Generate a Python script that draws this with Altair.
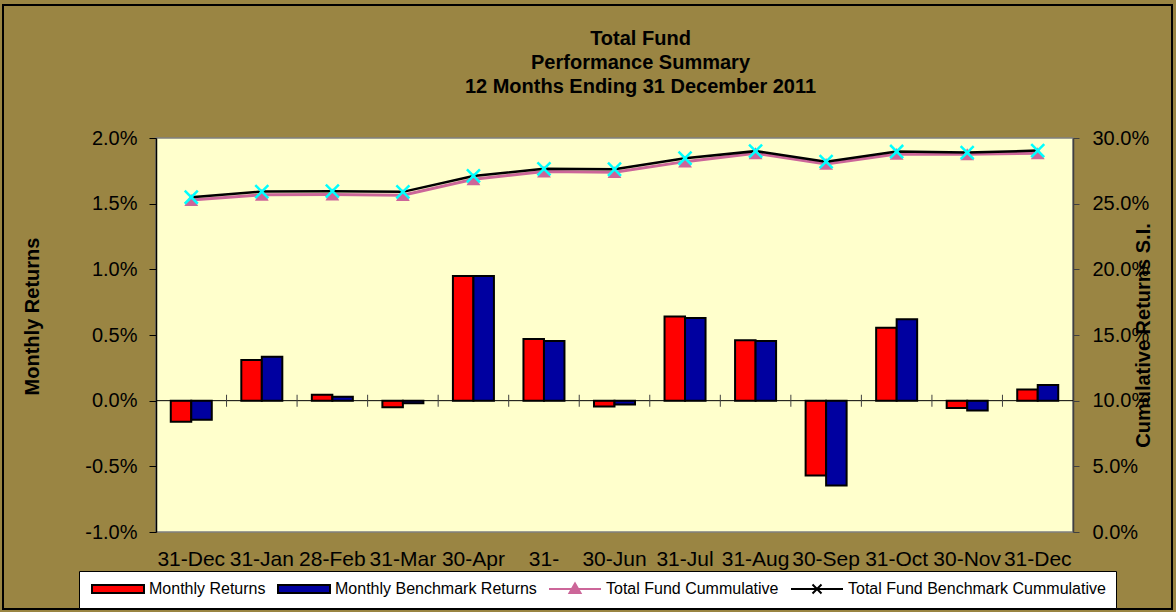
import json
import altair as alt
import pandas as pd

FONT = "Liberation Sans"

months = ["31-Dec", "31-Jan", "28-Feb", "31-Mar", "30-Apr", "31-", "30-Jun",
          "31-Jul", "31-Aug", "30-Sep", "31-Oct", "30-Nov", "31-Dec"]
monthly_returns = [-0.0016, 0.0031, 0.00045, -0.0005, 0.0095, 0.0047, -0.00045,
                   0.0064, 0.0046, -0.0057, 0.00555, -0.00055, 0.00085]
benchmark_returns = [-0.00145, 0.00335, 0.0003, -0.0002, 0.0095, 0.00455, -0.0003,
                     0.0063, 0.00455, -0.00645, 0.0062, -0.00075, 0.0012]
fund_cumulative = [0.2528, 0.2567, 0.2570, 0.2565, 0.2686, 0.2744, 0.2740,
                   0.2820, 0.2884, 0.2803, 0.2879, 0.2876, 0.2884]
bench_cumulative = [0.2549, 0.2592, 0.2595, 0.2590, 0.2711, 0.2765, 0.2762,
                    0.2846, 0.2900, 0.2820, 0.2897, 0.2889, 0.2904]
series_names = ["Monthly Returns", "Monthly Benchmark Returns",
                "Total Fund Cummulative", "Total Fund Benchmark Cummulative"]
left_ticks = [-0.01, -0.005, 0.0, 0.005, 0.01, 0.015, 0.02]
right_ticks = [0.0, 0.05, 0.1, 0.15, 0.2, 0.25, 0.3]

bars_rows = []
for i in range(len(months)):
    bars_rows.append({"idx": i, "series": series_names[0], "value": monthly_returns[i]})
    bars_rows.append({"idx": i, "series": series_names[1], "value": benchmark_returns[i]})
bars_df = pd.DataFrame(bars_rows)

cum_rows = []
for i in range(len(months)):
    cum_rows.append({"idx": i, "series": series_names[2], "value": fund_cumulative[i]})
    cum_rows.append({"idx": i, "series": series_names[3], "value": bench_cumulative[i]})
cum_df = pd.DataFrame(cum_rows)

ticks_df = pd.DataFrame({"idx": list(range(1, len(months))), "zero": [0.0] * (len(months) - 1)})
zero_df = pd.DataFrame({"zero": [0.0]})
legend_df = pd.DataFrame({"idx": [0] * 4, "series": series_names, "value": [fund_cumulative[0]] * 4})

fill_scale = alt.Scale(domain=series_names, range=["#FF0000", "#0000A0", "#CC6699", "#00FFFF"])
stroke_scale = alt.Scale(domain=series_names, range=["#000000", "#000000", "#CC6699", "#000000"])
shape_scale = alt.Scale(domain=series_names, range=[
    "M-5.2,-0.8H5.2V0.8H-5.2Z",
    "M-5.2,-0.8H5.2V0.8H-5.2Z",
    "M-5.2,0H5.2M-1.1,0.8L0,-1.1L1.1,0.8Z",
    "M-5.2,0H5.2M-0.9,-0.9L0.9,0.9M-0.9,0.9L0.9,-0.9",
])

leg = alt.Legend(
    orient="none", legendX=-77, legendY=433, direction="horizontal", columns=4,
    title=None, fillColor="white", strokeColor="black", padding=10,
    labelFont=FONT, labelFontSize=16, labelColor="black", labelLimit=500,
    symbolSize=100, symbolOffset=21, labelOffset=23, columnPadding=8,
    gridAlign="none", symbolStrokeWidth=2, symbolOpacity=1,
)

left_scale = alt.Scale(domain=[-0.01, 0.02], nice=False, zero=False)
right_scale = alt.Scale(domain=[0, 0.30], nice=False, zero=False)

x_axis = alt.Axis(
    title=None, labelExpr=f"{json.dumps(months)}[datum.value]", labelAngle=0,
    ticks=False, domain=False, grid=False, labelFont=FONT, labelFontSize=21,
    labelColor="black", labelPadding=16, labelOverlap=False,
)
left_axis = alt.Axis(
    values=left_ticks, grid=False,
    labelExpr="(datum.value < 0 ? '-' : '') + format(abs(datum.value), '.1%')",
    domainColor="black", domainWidth=1.5, tickColor="black", tickSize=7,
    labelFont=FONT, labelFontSize=20, labelColor="black", labelPadding=12,
    title="Monthly Returns", titleFont=FONT, titleFontSize=20, titleFontWeight="bold",
    titleColor="black", titleAngle=270, titleX=-124, titleY=178,
    titleAlign="center", titleBaseline="middle",
)
right_axis = alt.Axis(
    orient="right", values=right_ticks, grid=False,
    labelExpr="format(datum.value, '.1%')",
    domainColor="#404040", domainWidth=1.5, tickColor="#404040", tickSize=6,
    labelFont=FONT, labelFontSize=20, labelColor="black", labelPadding=13,
    title="Cumulative Returns S.I.", titleFont=FONT, titleFontSize=20, titleFontWeight="bold",
    titleColor="black", titleAngle=270, titleX=70, titleY=197,
    titleAlign="center", titleBaseline="middle",
)

# outer frame of the whole picture (decoration)
frame = alt.Chart(pd.DataFrame({"f": [0]})).mark_rect(
    fillOpacity=0, stroke="black", strokeWidth=2
).encode(x=alt.value(-153), x2=alt.value(1016), y=alt.value(-133), y2=alt.value(471))

bars = alt.Chart(bars_df).mark_bar(strokeWidth=2, opacity=1).encode(
    x=alt.X("idx:O", scale=alt.Scale(paddingInner=0, paddingOuter=0), axis=x_axis),
    xOffset=alt.XOffset("series:N", scale=alt.Scale(domain=series_names[:2], paddingInner=0, paddingOuter=0.72)),
    y=alt.Y("value:Q", scale=left_scale, axis=left_axis, stack=None),
    fill=alt.Fill("series:N", scale=fill_scale, legend=leg),
    stroke=alt.Stroke("series:N", scale=stroke_scale, legend=leg),
)
zero_rule = alt.Chart(zero_df).mark_rule(color="black", strokeWidth=1).encode(
    y=alt.Y("zero:Q")
)
cat_ticks = alt.Chart(ticks_df).mark_tick(orient="vertical", size=12, thickness=1, color="#404040", opacity=1).encode(
    x=alt.X("idx:O", bandPosition=0),
    y=alt.Y("zero:Q"),
)
left = alt.layer(frame, bars, zero_rule, cat_ticks)

pink_line = alt.Chart(cum_df).transform_filter(
    alt.datum.series == series_names[2]
).mark_line(color="#CC6699", strokeWidth=3).encode(
    x=alt.X("idx:O"),
    y=alt.Y("value:Q", scale=right_scale, axis=right_axis),
)
black_line = alt.Chart(cum_df).transform_filter(
    alt.datum.series == series_names[3]
).mark_line(color="black", strokeWidth=2.5).encode(
    x=alt.X("idx:O"),
    y=alt.Y("value:Q"),
)
tri = alt.Chart(cum_df).transform_filter(
    alt.datum.series == series_names[2]
).mark_point(shape="triangle-up", filled=True, color="#CC6699", size=190, opacity=1).encode(
    x=alt.X("idx:O"),
    y=alt.Y("value:Q"),
)
xmark = alt.Chart(cum_df).transform_filter(
    alt.datum.series == series_names[3]
).mark_point(shape="M-1,-1L1,1M-1,1L1,-1", filled=False, color="#00FFFF", size=170,
             strokeWidth=2.5, opacity=1).encode(
    x=alt.X("idx:O"),
    y=alt.Y("value:Q"),
)
legend_layer = alt.Chart(legend_df).transform_filter(
    alt.datum.idx < 0
).mark_point(filled=True, strokeWidth=2, opacity=1).encode(
    x=alt.X("idx:O"),
    y=alt.Y("value:Q"),
    fill=alt.Fill("series:N", scale=fill_scale, legend=leg),
    stroke=alt.Stroke("series:N", scale=stroke_scale, legend=leg),
    shape=alt.Shape("series:N", scale=shape_scale, legend=leg),
)
right = alt.layer(pink_line, black_line, tri, xmark, legend_layer)

chart = alt.layer(left, right).resolve_scale(y="independent").properties(
    width=917, height=394,
    padding={"left": 156, "top": 138, "right": 103, "bottom": 80},
    autosize=alt.AutoSizeParams(type="none"),
    background="#9A8543",
    title=alt.TitleParams(
        text=["Total Fund", "Performance Summary", "12 Months Ending 31 December 2011"],
        font=FONT, fontSize=20, fontWeight="bold", color="black",
        anchor="middle", frame="group", dx=26, offset=-93, lineHeight=24,
    ),
).configure_view(fill="#FFFFCC", stroke="#808080", strokeWidth=1.5)

chart.save("out.html", embed_options={"renderer": "svg", "actions": False})
